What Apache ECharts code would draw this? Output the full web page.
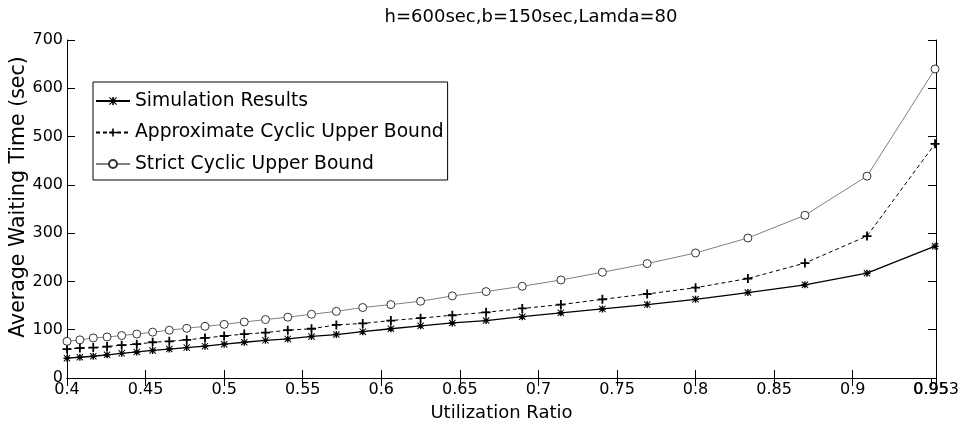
<!DOCTYPE html>
<html lang="en">
<head>
    <meta charset="UTF-8">
    <title>Average Waiting Time</title>
    <style type="text/css">
        *{
            margin: 0px;
            padding: 0px;
        }
        body{
            background: #fff;
        }
        #chart{
            width: 963px;
            height: 425px;
        }
    </style>
</head>
<body>
<div id="chart"></div>
<script src="https://cdn.jsdelivr.net/npm/echarts@6/dist/echarts.min.js"></script>
<script type="text/javascript">
  // utilization ratio of each point
  var ratio = [0.4, 0.4082, 0.4167, 0.4255, 0.4348, 0.4444, 0.4545, 0.4651, 0.4762, 0.4878,
    0.5, 0.5128, 0.5263, 0.5405, 0.5556, 0.5714, 0.5882, 0.6061, 0.625, 0.6452,
    0.6667, 0.6897, 0.7143, 0.7407, 0.7692, 0.8, 0.8333, 0.8696, 0.9091, 0.9524];
  var simulation = [41, 43, 45, 48, 51, 54, 57, 60, 63, 66,
    70, 74, 78, 81, 86, 90, 96, 102, 108, 114,
    119, 127, 135, 143, 152, 163, 177, 193, 217, 273];
  var approxBound = [60, 62, 63, 65, 68, 70, 74, 76, 79, 83,
    87, 91, 94, 99, 102, 110, 113, 119, 124, 130,
    136, 144, 152, 163, 174, 187, 206, 238, 294, 485];
  var strictBound = [76, 79, 83, 85, 88, 91, 95, 99, 103, 107,
    111, 116, 121, 126, 132, 138, 146, 152, 159, 170,
    179, 190, 203, 219, 237, 259, 290, 337, 418, 640];
  // x tick labels, the last one is the axis end (0.95 is drawn over it)
  var xTicks = [0.4, 0.45, 0.5, 0.55, 0.6, 0.65, 0.7, 0.75, 0.8, 0.85, 0.9, 0.95, 0.953];
  var xOverTick = [0.95];
  var seriesNames = ['Simulation Results', 'Approximate Cyclic Upper Bound', 'Strict Cyclic Upper Bound'];

  function pairs(ys) {
    var out = [];
    for (var i = 0; i < ratio.length; i++) {
      out.push([ratio[i], ys[i]]);
    }
    return out;
  }

  var font = 'DejaVu Sans';
  var plusIcon = 'path://M4,0H6V4H10V6H6V10H4V6H0V4H4Z';
  var starIcon = 'path://M4,0H6V4H10V6H6V10H4V6H0V4H4Z M1,0L10,9L9,10L0,1Z M9,0L10,1L1,10L0,9Z';
  var xLabel = {
    fontFamily: font, fontSize: 16, color: '#000', margin: 4,
    showMinLabel: true, showMaxLabel: true, hideOverlap: false,
    formatter: function (v) { return String(+v.toFixed(3)); }
  };

  var xBase = {
    type: 'value', min: 0.4, max: 0.953,
    axisLine: {lineStyle: {color: '#000', width: 1}},
    axisTick: {show: true, inside: true, length: 8, customValues: xTicks, lineStyle: {color: '#000'}},
    splitLine: {show: false}
  };
  var yBase = {
    type: 'value', min: 0, max: 700, interval: 100,
    axisLine: {show: true, lineStyle: {color: '#000', width: 1}},
    axisTick: {show: true, inside: true, length: 8, lineStyle: {color: '#000'}},
    splitLine: {show: false}
  };

  var myChart = echarts.init(document.getElementById('chart'));
  myChart.setOption({
    animation: false,
    textStyle: {fontFamily: font, color: '#000'},
    title: {
      text: 'h=600sec,b=150sec,Lamda=80',
      left: 526, top: 3, textAlign: 'center',
      textStyle: {fontFamily: font, fontSize: 18, fontWeight: 'normal', color: '#000'}
    },
    grid: {left: 67, right: 27, top: 40, bottom: 47, outerBoundsMode: 'none'},
    legend: {
      orient: 'vertical',
      left: 93, top: 82,
      data: seriesNames,
      itemWidth: 34, itemHeight: 10, itemGap: 9.5,
      padding: [8, 4, 5, 2],
      borderColor: '#000', borderWidth: 1,
      textStyle: {fontFamily: font, fontSize: 18.7, lineHeight: 22, color: '#000'}
    },
    xAxis: [
      Object.assign({}, xBase, {
        position: 'bottom',
        name: 'Utilization Ratio', nameLocation: 'middle', nameGap: 26,
        nameMoveOverlap: false,
        nameTextStyle: {fontFamily: font, fontSize: 18, color: '#000'},
        axisLabel: Object.assign({customValues: xTicks}, xLabel)
      }),
      Object.assign({}, xBase, {position: 'top', axisLabel: {show: false}}),
      Object.assign({}, xBase, {
        position: 'bottom',
        axisLine: {show: false}, axisTick: {show: false},
        axisLabel: Object.assign({customValues: xOverTick}, xLabel)
      })
    ],
    yAxis: [
      Object.assign({}, yBase, {
        position: 'left',
        name: 'Average Waiting Time (sec)', nameLocation: 'middle', nameGap: 38,
        nameMoveOverlap: false,
        nameTextStyle: {fontFamily: font, fontSize: 20.5, color: '#000', padding: [0, 0, 0, 24]},
        axisLabel: {fontFamily: font, fontSize: 16, color: '#000', margin: 4}
      }),
      Object.assign({}, yBase, {position: 'right', axisLabel: {show: false}})
    ],
    series: [
      {
        name: seriesNames[0], type: 'line', data: pairs(simulation),
        symbol: starIcon, symbolSize: 7,
        lineStyle: {color: '#000', width: 1.3},
        itemStyle: {color: '#000'}
      },
      {
        name: seriesNames[1], type: 'line', data: pairs(approxBound),
        symbol: plusIcon, symbolSize: 9,
        lineStyle: {color: '#000', width: 1, type: [4, 3]},
        itemStyle: {color: '#000'}
      },
      {
        name: seriesNames[2], type: 'line', data: pairs(strictBound),
        symbol: 'circle', symbolSize: 8,
        lineStyle: {color: '#808080', width: 1},
        itemStyle: {color: '#fff', borderColor: '#333', borderWidth: 1}
      }
    ]
  });
</script>
</body>
</html>
